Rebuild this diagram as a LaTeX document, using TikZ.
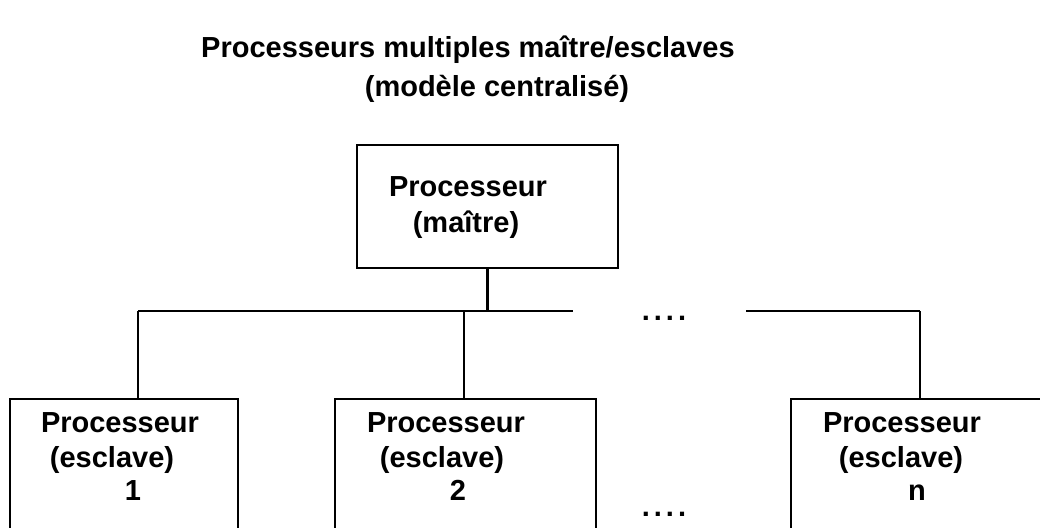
\documentclass[tikz,border=0pt]{standalone}
\usepackage{fontspec}
\setmainfont{Liberation Sans}
\begin{document}
\begin{tikzpicture}[x=1pt,y=-1pt,
  every node/.style={inner sep=0pt, outer sep=0pt},
  frame/.style={draw, line width=2.2pt, rectangle, anchor=north west},
  label text/.style={anchor=base, font=\fontsize{29}{33}\selectfont\bfseries},
  wire/.style={line width=2.2pt}]
  \useasboundingbox (0,0) rectangle (1040,527);
  \clip (0,0) rectangle (1040,527);

  % title
  \node[label text] (t1) at (468,57) {Processeurs multiples maître/esclaves};
  \node[label text] (t2) at (497,96) {(modèle centralisé)};

  % master processor
  \node[frame, minimum width=261pt, minimum height=123pt] (master) at (357,145) {};
  \node[label text] (m1) at (468,196) {Processeur};
  \node[label text] (m2) at (466,232) {(maître)};

  % slave processors
  \node[frame, minimum width=228pt, minimum height=150pt] (s1) at (10,399) {};
  \node[frame, minimum width=261pt, minimum height=150pt] (s2) at (335,399) {};
  \node[frame, minimum width=270pt, minimum height=150pt] (sn) at (791,399) {};

  \node[label text] (s1a) at (120,432) {Processeur};
  \node[label text] (s1b) at (112,467) {(esclave)};
  \node[label text] (s1c) at (133,500) {1};

  \node[label text] (s2a) at (446,432) {Processeur};
  \node[label text] (s2b) at (442,467) {(esclave)};
  \node[label text] (s2c) at (458,500) {2};

  \node[label text] (sna) at (902,432) {Processeur};
  \node[label text] (snb) at (901,467) {(esclave)};
  \node[label text] (snc) at (917,500) {n};

  % ellipsis marks
  \node[label text] (dtop) at (664,320) {.\kern4pt.\kern4pt.\kern4pt.};
  \node[label text] (dbot) at (664,516) {.\kern4pt.\kern4pt.\kern4pt.};

  % bus
  \coordinate (busL) at (138,311);
  \coordinate (busM) at (master.south |- busL);
  \coordinate (gapA) at (573,311);
  \coordinate (gapB) at (746,311);
  \coordinate (busR) at (920,311);
  \coordinate (bus2) at (464,311);

  \draw[wire] (master.south) -- (busM);
  \draw[wire] (busL) -- (gapA);
  \draw[wire] (gapB) -- (busR);
  \draw[wire] (busL) -- (busL |- s1.north);
  \draw[wire] (bus2) -- (bus2 |- s2.north);
  \draw[wire] (busR) -- (busR |- sn.north);
\end{tikzpicture}
\end{document}
